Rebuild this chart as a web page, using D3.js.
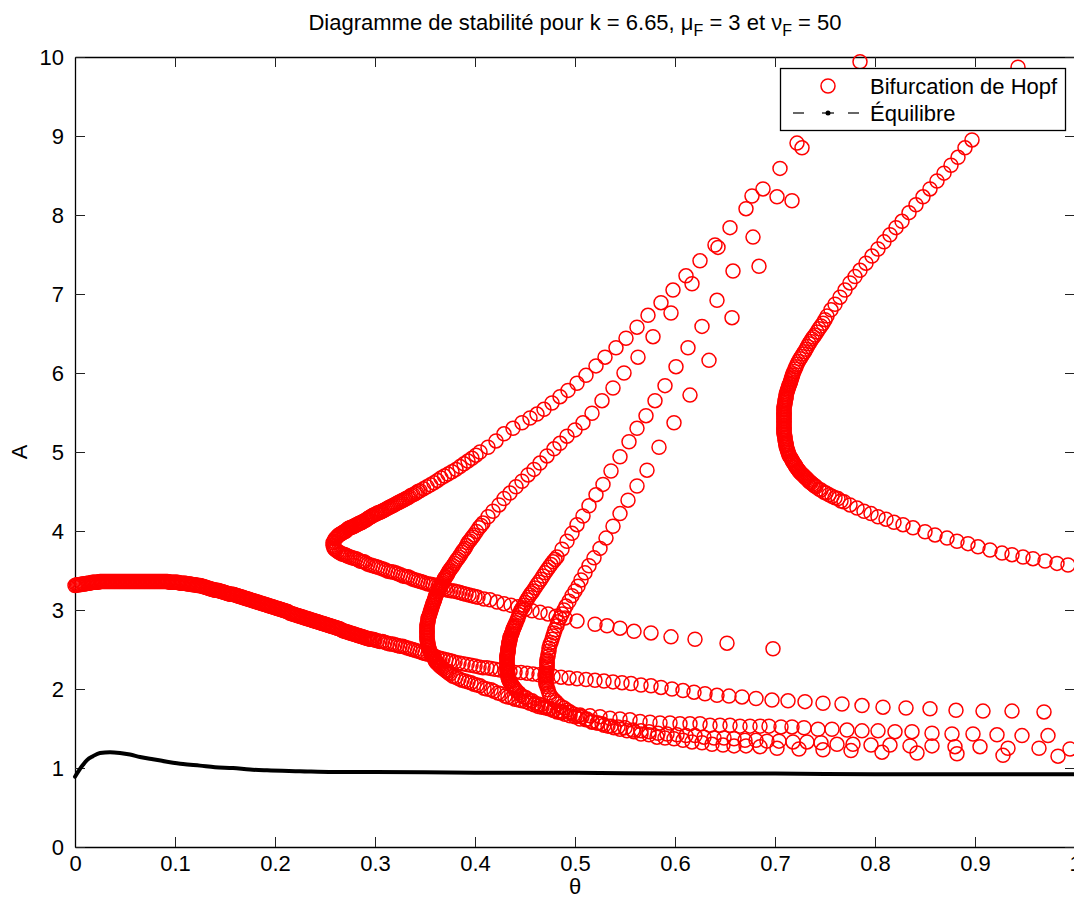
<!DOCTYPE html>
<html>
<head>
<meta charset="utf-8">
<script src="https://cdn.jsdelivr.net/npm/d3@7"></script>
<style>
  html, body { margin: 0; padding: 0; background: #fff; }
  svg { display: block; font-family: "Liberation Sans", Arial, Helvetica, sans-serif; }
</style>
</head>
<body>
<svg id="chart" width="1074" height="900"></svg>
<script>
// ---- Axis ticks -------------------------------------------------------
const thetaTicks = [0, 0.1, 0.2, 0.3, 0.4, 0.5, 0.6, 0.7, 0.8, 0.9, 1];
const thetaTickLabels = ["0", "0.1", "0.2", "0.3", "0.4", "0.5", "0.6", "0.7", "0.8", "0.9", "1"];
const aTicks = [0, 1, 2, 3, 4, 5, 6, 7, 8, 9, 10];
const aTickLabels = ["0", "1", "2", "3", "4", "5", "6", "7", "8", "9", "10"];

// ---- Hopf bifurcation points [theta, A] -------------------------------
// Branch starting at theta = 0 (very finely sampled near the origin)
const hopfBranch1 = [
[0.00000,3.310],[0.00125,3.315],[0.00250,3.320],[0.00375,3.320],[0.00500,3.320],[0.00625,3.325],[0.00750,3.330],[0.00875,3.330],
[0.01000,3.330],[0.01125,3.335],[0.01250,3.340],[0.01375,3.340],[0.01500,3.340],[0.01625,3.345],[0.01750,3.350],[0.01875,3.350],
[0.02000,3.350],[0.02125,3.350],[0.02250,3.350],[0.02375,3.355],[0.02500,3.360],[0.02625,3.36],[0.02750,3.36],[0.02875,3.36],
[0.03000,3.36],[0.03125,3.36],[0.03250,3.36],[0.03375,3.36],[0.03500,3.36],[0.03625,3.36],[0.03750,3.36],[0.03875,3.36],
[0.04000,3.36],[0.04125,3.36],[0.04250,3.36],[0.04375,3.36],[0.04500,3.36],[0.04625,3.36],[0.04750,3.36],[0.04875,3.36],
[0.05000,3.36],[0.05125,3.36],[0.05250,3.36],[0.05375,3.36],[0.05500,3.36],[0.05625,3.36],[0.05750,3.36],[0.05875,3.36],
[0.06000,3.36],[0.06125,3.36],[0.06250,3.36],[0.06375,3.36],[0.06500,3.36],[0.06625,3.36],[0.06750,3.36],[0.06875,3.36],
[0.07000,3.36],[0.07125,3.36],[0.07250,3.36],[0.07375,3.36],[0.07500,3.36],[0.07625,3.36],[0.07750,3.36],[0.07875,3.36],
[0.08000,3.36],[0.08125,3.36],[0.08250,3.36],[0.08375,3.36],[0.08500,3.36],[0.08625,3.36],[0.08750,3.36],[0.08875,3.36],
[0.09000,3.36],[0.09125,3.36],[0.09250,3.36],[0.09375,3.355],[0.09500,3.35],[0.09625,3.35],[0.09750,3.35],[0.09875,3.35],
[0.10000,3.35],[0.10125,3.35],[0.10250,3.35],[0.10375,3.345],[0.10500,3.34],[0.10625,3.34],[0.10750,3.34],[0.10875,3.34],
[0.11000,3.34],[0.11125,3.335],[0.11250,3.33],[0.11375,3.33],[0.11500,3.33],[0.11625,3.325],[0.11750,3.32],[0.11875,3.32],
[0.12000,3.32],[0.12125,3.315],[0.12250,3.31],[0.12375,3.31],[0.12500,3.31],[0.12625,3.305],[0.12750,3.30],[0.12875,3.295],
[0.13000,3.29],[0.13125,3.285],[0.13250,3.28],[0.13375,3.275],[0.13500,3.27],[0.13625,3.265],[0.13750,3.26],[0.13875,3.255],
[0.14000,3.25],[0.14125,3.25],[0.14250,3.25],[0.14375,3.245],[0.14500,3.24],[0.14625,3.235],[0.14750,3.23],[0.14875,3.225],
[0.15000,3.22],[0.15125,3.215],[0.15250,3.21],[0.15375,3.205],[0.15500,3.20],[0.15625,3.20],[0.15750,3.20],[0.15875,3.195],
[0.16000,3.19],[0.16125,3.185],[0.16250,3.18],[0.16375,3.175],[0.16500,3.17],[0.16625,3.165],[0.16750,3.16],[0.16875,3.155],
[0.17000,3.15],[0.17125,3.145],[0.17250,3.14],[0.17375,3.135],[0.17500,3.13],[0.17625,3.125],[0.17750,3.12],[0.17875,3.115],
[0.18000,3.11],[0.18125,3.105],[0.18250,3.10],[0.18375,3.095],[0.18500,3.09],[0.18625,3.085],[0.18750,3.08],[0.18875,3.075],
[0.19000,3.07],[0.19125,3.065],[0.19250,3.06],[0.19375,3.055],[0.19500,3.05],[0.19625,3.045],[0.19750,3.04],[0.19875,3.035],
[0.20000,3.03],[0.20125,3.025],[0.20250,3.02],[0.20375,3.015],[0.20500,3.01],[0.20625,3.005],[0.20750,3.00],[0.20875,2.995],
[0.21000,2.99],[0.21125,2.985],[0.21250,2.98],[0.21375,2.97],[0.21500,2.96],[0.21625,2.955],[0.21750,2.95],[0.21875,2.945],
[0.22000,2.94],[0.22125,2.935],[0.22250,2.93],[0.22375,2.925],[0.22500,2.92],[0.22625,2.915],[0.22750,2.91],[0.22875,2.905],
[0.23000,2.90],[0.23125,2.895],[0.23250,2.89],[0.23375,2.885],[0.23500,2.88],[0.23625,2.875],[0.23750,2.87],[0.23875,2.865],
[0.24000,2.86],[0.24125,2.855],[0.24250,2.85],[0.24375,2.845],[0.24500,2.84],[0.24625,2.835],[0.24750,2.83],[0.24875,2.825],
[0.25000,2.82],[0.25125,2.815],[0.25250,2.81],[0.25375,2.805],[0.25500,2.80],[0.25625,2.795],[0.25750,2.79],[0.25875,2.785],
[0.26000,2.78],[0.26125,2.775],[0.26250,2.77],[0.26375,2.765],[0.26500,2.76],[0.26625,2.75],[0.26750,2.74],[0.26875,2.735],
[0.27000,2.73],[0.27125,2.725],[0.27250,2.72],[0.27375,2.715],[0.27500,2.71],[0.27625,2.705],[0.27750,2.70],[0.27875,2.695],
[0.28000,2.69],[0.28125,2.685],[0.28250,2.68],[0.28375,2.675],[0.28500,2.67],[0.28625,2.665],[0.28750,2.66],[0.28875,2.655],
[0.29000,2.65],[0.29125,2.645],[0.29250,2.64],[0.29375,2.635],[0.29500,2.63],[0.29625,2.63],[0.29750,2.63],[0.29875,2.625],
[0.3000,2.62],[0.3025,2.61],[0.3050,2.60],[0.3075,2.60],[0.3100,2.59],[0.3125,2.58],[0.3150,2.57],[0.3175,2.57],[0.3200,2.56],[0.3225,2.55],[0.3250,2.54],[0.3275,2.54],[0.3300,2.53],[0.3325,2.52],[0.3350,2.51],[0.3375,2.50],[0.3400,2.49],[0.3425,2.48],[0.3450,2.47],[0.3475,2.46],[0.3500,2.45],
[0.353,2.44],[0.356,2.43],[0.359,2.42],[0.362,2.40],[0.365,2.39],[0.368,2.38],[0.371,2.37],[0.374,2.36],[0.377,2.35],[0.380,2.34],[0.384,2.33],[0.388,2.32],[0.392,2.31],[0.396,2.30],[0.400,2.29],[0.404,2.28],[0.408,2.27],[0.412,2.27],[0.416,2.26],[0.420,2.25],[0.425,2.24],[0.430,2.23],[0.435,2.22],[0.440,2.21],[0.446,2.21],[0.452,2.20],[0.458,2.19],[0.464,2.18],[0.470,2.17],[0.478,2.16],[0.486,2.15],[0.494,2.14],[0.502,2.13],[0.511,2.12],[0.520,2.11],[0.529,2.10],[0.538,2.09],[0.547,2.08],[0.556,2.07],[0.566,2.05],[0.576,2.04],[0.586,2.02],[0.597,2.00],[0.608,1.98],[0.619,1.96],[0.630,1.94],[0.642,1.92],[0.654,1.91],[0.667,1.90],[0.681,1.88],[0.697,1.86],[0.713,1.85],[0.730,1.84],[0.748,1.82],[0.767,1.81],[0.787,1.79],[0.808,1.77],[0.831,1.76],[0.855,1.75],[0.881,1.73],[0.908,1.72],[0.937,1.72],[0.969,1.71]];

// Branch folding at the cusp near theta = 0.26
const hopfBranch2Upper = [[0.258,3.82],[0.258,3.85],[0.259,3.87],[0.260,3.90],[0.261,3.91],[0.262,3.925],[0.263,3.94],[0.264,3.95],[0.265,3.96],[0.266,3.965],[0.267,3.97],[0.268,3.98],[0.269,3.99],[0.270,3.995],[0.271,4.00],[0.272,4.015],[0.273,4.03],[0.274,4.035],[0.275,4.04],[0.276,4.045],[0.277,4.05],[0.278,4.055],[0.279,4.06],[0.280,4.07],[0.281,4.075],[0.282,4.08],[0.283,4.09],[0.284,4.095],[0.285,4.10],[0.286,4.105],[0.287,4.11],[0.288,4.12],[0.2895,4.13],[0.291,4.14],[0.292,4.15],[0.293,4.16],[0.2945,4.17],[0.296,4.18],[0.297,4.19],[0.298,4.20],[0.2995,4.205],[0.301,4.215],[0.302,4.22],[0.303,4.23],[0.3045,4.235],[0.306,4.245],[0.307,4.25],[0.3085,4.26],[0.310,4.27],[0.3115,4.28],[0.313,4.29],[0.3145,4.30],[0.316,4.31],[0.3175,4.32],[0.319,4.33],[0.3205,4.34],[0.322,4.35],[0.3235,4.36],[0.325,4.37],[0.3265,4.38],[0.328,4.39],[0.3295,4.40],[0.331,4.41],[0.333,4.42],[0.3345,4.435],[0.336,4.45],[0.338,4.46],[0.340,4.47],[0.3415,4.485],[0.343,4.50],[0.345,4.51],[0.3485,4.535],[0.352,4.56],[0.3555,4.585],[0.359,4.61],[0.3625,4.64],[0.366,4.67],[0.3695,4.695],[0.373,4.72],[0.377,4.75],[0.381,4.78],[0.385,4.815],[0.389,4.85],[0.393,4.885],[0.397,4.92],[0.401,4.96],[0.405,5.00],[0.413,5.06],[0.421,5.14],[0.429,5.23],[0.438,5.30],[0.447,5.37],[0.455,5.43],[0.462,5.48],[0.469,5.54],[0.477,5.62],[0.485,5.70],[0.493,5.78],[0.502,5.87],[0.511,5.97],[0.521,6.09],[0.530,6.20],[0.541,6.32],[0.551,6.44],[0.562,6.58],[0.573,6.73],[0.586,6.89],[0.598,7.05],[0.611,7.23],[0.625,7.42],[0.640,7.62],[0.655,7.84],[0.671,8.08],[0.688,8.33],[0.705,8.59],[0.722,8.91],[0.785,9.94]];
const hopfBranch2Lower = [[0.259,3.80],[0.259,3.78],[0.260,3.77],[0.261,3.76],[0.2625,3.745],[0.264,3.73],[0.2655,3.72],[0.267,3.71],[0.2685,3.705],[0.270,3.70],[0.2715,3.69],[0.273,3.68],[0.275,3.67],[0.277,3.66],[0.279,3.655],[0.281,3.65],[0.283,3.635],[0.285,3.62],[0.287,3.615],[0.289,3.61],[0.291,3.595],[0.293,3.58],[0.2955,3.57],[0.298,3.56],[0.3005,3.55],[0.303,3.54],[0.3055,3.53],[0.308,3.52],[0.3105,3.505],[0.313,3.49],[0.3155,3.485],[0.318,3.48],[0.3205,3.47],[0.323,3.46],[0.3255,3.445],[0.328,3.43],[0.3305,3.425],[0.333,3.42],[0.3355,3.405],[0.338,3.39],[0.3405,3.38],[0.343,3.37],[0.3455,3.36],[0.348,3.35],[0.3505,3.34],[0.353,3.33],[0.3555,3.325],[0.358,3.32],[0.3605,3.305],[0.363,3.29],[0.3655,3.285],[0.368,3.28],[0.3705,3.265],[0.373,3.25],[0.376,3.245],[0.379,3.24],[0.382,3.23],[0.385,3.22],[0.388,3.21],[0.391,3.20],[0.394,3.19],[0.397,3.18],[0.400,3.17],[0.403,3.16],[0.409,3.14],[0.415,3.13],[0.422,3.10],[0.429,3.08],[0.436,3.06],[0.443,3.04],[0.450,3.01],[0.457,2.99],[0.465,2.97],[0.473,2.95],[0.481,2.92],[0.490,2.90],[0.502,2.86],[0.520,2.82],[0.532,2.80],[0.545,2.77],[0.559,2.73],[0.576,2.71],[0.596,2.66],[0.620,2.63],[0.652,2.58],[0.698,2.51]];

// Branch with its turning point near theta = 0.35
const hopfBranch3Upper = [[0.352,2.70],[0.352,2.715],[0.352,2.73],[0.352,2.75],[0.352,2.77],[0.352,2.79],[0.352,2.81],[0.3525,2.83],[0.353,2.85],[0.353,2.87],[0.353,2.89],[0.3535,2.905],[0.354,2.92],[0.3545,2.94],[0.355,2.96],[0.3555,2.98],[0.356,3.00],[0.3565,3.02],[0.357,3.04],[0.3575,3.06],[0.358,3.08],[0.3585,3.095],[0.359,3.11],[0.3595,3.13],[0.360,3.15],[0.3605,3.17],[0.361,3.19],[0.362,3.21],[0.363,3.23],[0.3635,3.25],[0.364,3.27],[0.365,3.285],[0.366,3.30],[0.3665,3.32],[0.367,3.34],[0.368,3.36],[0.369,3.38],[0.3695,3.395],[0.370,3.41],[0.371,3.425],[0.372,3.44],[0.3725,3.455],[0.373,3.47],[0.374,3.49],[0.375,3.51],[0.3765,3.535],[0.378,3.56],[0.3795,3.59],[0.381,3.62],[0.3825,3.645],[0.384,3.67],[0.3855,3.70],[0.387,3.73],[0.3885,3.755],[0.390,3.78],[0.3915,3.815],[0.393,3.85],[0.3945,3.875],[0.396,3.90],[0.3975,3.925],[0.399,3.95],[0.4015,3.995],[0.404,4.04],[0.406,4.07],[0.408,4.10],[0.413,4.18],[0.418,4.25],[0.424,4.33],[0.429,4.41],[0.435,4.48],[0.441,4.56],[0.447,4.63],[0.453,4.71],[0.459,4.78],[0.465,4.86],[0.472,4.95],[0.479,5.04],[0.485,5.11],[0.492,5.20],[0.500,5.28],[0.508,5.37],[0.517,5.49],[0.527,5.65],[0.538,5.81],[0.549,6.00],[0.563,6.20],[0.578,6.46],[0.596,6.76],[0.617,7.13],[0.643,7.59],[0.677,8.24]];
const hopfBranch3Lower = [[0.352,2.68],[0.352,2.66],[0.352,2.64],[0.352,2.62],[0.3525,2.60],[0.353,2.58],[0.353,2.56],[0.353,2.54],[0.3535,2.525],[0.354,2.51],[0.3545,2.49],[0.355,2.47],[0.356,2.45],[0.357,2.43],[0.3575,2.42],[0.358,2.41],[0.359,2.39],[0.360,2.37],[0.3605,2.355],[0.361,2.34],[0.362,2.33],[0.363,2.32],[0.364,2.305],[0.365,2.29],[0.366,2.28],[0.367,2.27],[0.3685,2.255],[0.370,2.24],[0.371,2.23],[0.372,2.22],[0.3735,2.205],[0.375,2.19],[0.378,2.16],[0.381,2.15],[0.384,2.13],[0.387,2.11],[0.390,2.10],[0.393,2.09],[0.396,2.08],[0.399,2.06],[0.402,2.05],[0.405,2.04],[0.409,2.01],[0.412,2.00],[0.416,1.99],[0.419,1.97],[0.423,1.95],[0.426,1.94],[0.430,1.91],[0.433,1.90],[0.437,1.89],[0.440,1.87],[0.444,1.86],[0.447,1.85],[0.451,1.84],[0.455,1.82],[0.459,1.80],[0.463,1.78],[0.467,1.77],[0.471,1.76],[0.475,1.75],[0.479,1.73],[0.484,1.72],[0.488,1.71],[0.495,1.70],[0.505,1.67],[0.515,1.66],[0.525,1.65],[0.535,1.63],[0.545,1.62],[0.555,1.61],[0.565,1.59],[0.575,1.58],[0.585,1.57],[0.595,1.57],[0.605,1.56],[0.615,1.56],[0.625,1.56],[0.635,1.54],[0.645,1.54],[0.655,1.54],[0.665,1.53],[0.675,1.53],[0.685,1.53],[0.694,1.53],[0.706,1.52],[0.717,1.52],[0.729,1.51],[0.743,1.49],[0.757,1.49],[0.772,1.48],[0.787,1.47],[0.803,1.47],[0.820,1.46],[0.837,1.46],[0.857,1.44],[0.877,1.43],[0.898,1.43],[0.922,1.42],[0.947,1.41],[0.973,1.41]];

// Branch with its turning point near theta = 0.43
const hopfBranch4Upper = [[0.432,2.30],[0.432,2.315],[0.432,2.33],[0.432,2.35],[0.432,2.37],[0.432,2.385],[0.432,2.40],[0.432,2.415],[0.432,2.43],[0.4325,2.445],[0.433,2.46],[0.433,2.475],[0.433,2.49],[0.433,2.505],[0.433,2.52],[0.4335,2.54],[0.434,2.56],[0.434,2.575],[0.434,2.59],[0.4345,2.605],[0.435,2.62],[0.435,2.635],[0.435,2.65],[0.4355,2.665],[0.436,2.68],[0.4365,2.695],[0.437,2.71],[0.4375,2.73],[0.438,2.75],[0.4385,2.765],[0.439,2.78],[0.4395,2.795],[0.440,2.81],[0.441,2.84],[0.442,2.87],[0.443,2.90],[0.444,2.94],[0.445,2.97],[0.446,3.00],[0.4475,3.03],[0.449,3.06],[0.4505,3.095],[0.452,3.13],[0.4535,3.16],[0.455,3.19],[0.4565,3.215],[0.458,3.24],[0.460,3.28],[0.462,3.32],[0.464,3.355],[0.466,3.39],[0.468,3.43],[0.470,3.47],[0.472,3.505],[0.474,3.54],[0.476,3.575],[0.478,3.61],[0.480,3.64],[0.482,3.67],[0.487,3.77],[0.492,3.87],[0.497,3.97],[0.502,4.08],[0.508,4.19],[0.514,4.32],[0.521,4.46],[0.528,4.59],[0.536,4.76],[0.545,4.94],[0.554,5.13],[0.562,5.30],[0.571,5.46],[0.580,5.65],[0.590,5.84],[0.601,6.08],[0.613,6.32],[0.627,6.59],[0.642,6.92],[0.658,7.29],[0.678,7.72],[0.702,8.23],[0.727,8.85]];
const hopfBranch4Lower = [[0.432,2.285],[0.432,2.27],[0.432,2.25],[0.432,2.23],[0.4325,2.21],[0.433,2.19],[0.433,2.17],[0.433,2.15],[0.4335,2.13],[0.434,2.11],[0.4345,2.10],[0.435,2.09],[0.436,2.07],[0.437,2.05],[0.4375,2.04],[0.438,2.03],[0.439,2.015],[0.440,2.00],[0.441,1.985],[0.442,1.97],[0.444,1.95],[0.446,1.92],[0.449,1.90],[0.451,1.89],[0.454,1.86],[0.457,1.85],[0.460,1.82],[0.463,1.81],[0.466,1.80],[0.470,1.77],[0.474,1.75],[0.478,1.73],[0.482,1.71],[0.486,1.70],[0.490,1.68],[0.495,1.66],[0.500,1.65],[0.505,1.62],[0.511,1.61],[0.517,1.58],[0.523,1.57],[0.529,1.54],[0.536,1.53],[0.543,1.52],[0.550,1.51],[0.558,1.48],[0.566,1.47],[0.574,1.46],[0.583,1.44],[0.592,1.43],[0.602,1.42],[0.611,1.41],[0.620,1.41],[0.629,1.39],[0.639,1.38],[0.649,1.38],[0.659,1.37],[0.670,1.35],[0.681,1.35],[0.692,1.34],[0.704,1.34],[0.718,1.33],[0.732,1.33],[0.746,1.32],[0.762,1.30],[0.778,1.30],[0.796,1.29],[0.815,1.29],[0.835,1.28],[0.857,1.28],[0.880,1.27],[0.905,1.27],[0.933,1.25],[0.964,1.25],[0.995,1.24]];

// Branch with its turning point near theta = 0.47
const hopfBranch5Upper = [[0.471,2.14],[0.471,2.16],[0.471,2.18],[0.471,2.20],[0.471,2.22],[0.472,2.25],[0.472,2.27],[0.472,2.29],[0.472,2.31],[0.472,2.33],[0.472,2.35],[0.472,2.37],[0.473,2.41],[0.473,2.44],[0.474,2.48],[0.474,2.52],[0.475,2.56],[0.476,2.59],[0.477,2.63],[0.478,2.67],[0.479,2.71],[0.480,2.75],[0.482,2.80],[0.483,2.85],[0.485,2.90],[0.487,2.95],[0.489,3.00],[0.491,3.05],[0.494,3.11],[0.497,3.18],[0.500,3.24],[0.503,3.30],[0.506,3.38],[0.510,3.47],[0.514,3.56],[0.519,3.66],[0.525,3.78],[0.531,3.91],[0.538,4.06],[0.545,4.22],[0.553,4.39],[0.562,4.57],[0.572,4.77],[0.584,5.06],[0.599,5.37],[0.615,5.72],[0.634,6.16],[0.657,6.70],[0.684,7.35],[0.717,8.18]];
const hopfBranch5Lower = [[0.471,2.12],[0.471,2.10],[0.471,2.08],[0.471,2.06],[0.472,2.03],[0.473,1.99],[0.474,1.95],[0.475,1.92],[0.477,1.89],[0.479,1.86],[0.481,1.84],[0.483,1.81],[0.486,1.78],[0.489,1.76],[0.492,1.73],[0.495,1.71],[0.499,1.68],[0.503,1.66],[0.507,1.65],[0.512,1.62],[0.517,1.59],[0.522,1.57],[0.527,1.56],[0.533,1.53],[0.539,1.51],[0.545,1.49],[0.552,1.47],[0.559,1.46],[0.566,1.43],[0.574,1.42],[0.582,1.39],[0.590,1.38],[0.599,1.37],[0.608,1.35],[0.617,1.33],[0.627,1.32],[0.637,1.30],[0.648,1.29],[0.659,1.28],[0.671,1.28],[0.685,1.27],[0.702,1.25],[0.724,1.24],[0.748,1.23],[0.776,1.22],[0.807,1.20],[0.842,1.19],[0.882,1.18],[0.928,1.16],[0.983,1.15]];

// Branch with its turning point near theta = 0.71
const hopfBranch6Upper = [[0.709,5.36],[0.709,5.38],[0.709,5.40],[0.709,5.42],[0.709,5.44],[0.709,5.46],[0.709,5.475],[0.709,5.49],[0.709,5.51],[0.709,5.53],[0.709,5.55],[0.709,5.57],[0.7095,5.59],[0.710,5.61],[0.710,5.63],[0.710,5.65],[0.7105,5.665],[0.711,5.68],[0.711,5.70],[0.711,5.72],[0.7115,5.74],[0.712,5.76],[0.7125,5.78],[0.713,5.80],[0.7135,5.82],[0.714,5.84],[0.7145,5.855],[0.715,5.87],[0.7155,5.89],[0.716,5.91],[0.7165,5.93],[0.717,5.95],[0.7175,5.97],[0.718,5.99],[0.719,6.02],[0.720,6.05],[0.721,6.08],[0.722,6.11],[0.7235,6.145],[0.725,6.18],[0.7265,6.21],[0.728,6.24],[0.7295,6.27],[0.731,6.30],[0.7325,6.335],[0.734,6.37],[0.7355,6.40],[0.737,6.43],[0.7385,6.455],[0.740,6.48],[0.742,6.52],[0.744,6.56],[0.746,6.595],[0.748,6.63],[0.750,6.675],[0.752,6.72],[0.756,6.80],[0.760,6.87],[0.765,6.96],[0.770,7.05],[0.775,7.14],[0.780,7.22],[0.785,7.30],[0.791,7.39],[0.797,7.48],[0.803,7.57],[0.809,7.66],[0.815,7.75],[0.821,7.84],[0.827,7.92],[0.834,8.03],[0.841,8.13],[0.848,8.23],[0.855,8.33],[0.862,8.43],[0.869,8.53],[0.876,8.63],[0.883,8.73],[0.890,8.85],[0.897,8.95],[0.943,9.87]];
const hopfBranch6Lower = [[0.709,5.34],[0.709,5.32],[0.709,5.30],[0.709,5.285],[0.709,5.27],[0.709,5.25],[0.709,5.23],[0.7095,5.21],[0.710,5.19],[0.710,5.17],[0.710,5.15],[0.7105,5.13],[0.711,5.11],[0.711,5.095],[0.711,5.08],[0.7115,5.06],[0.712,5.04],[0.7125,5.02],[0.713,5.00],[0.7135,4.98],[0.714,4.96],[0.715,4.94],[0.716,4.92],[0.717,4.90],[0.7175,4.885],[0.718,4.87],[0.719,4.855],[0.720,4.84],[0.7205,4.825],[0.721,4.81],[0.722,4.795],[0.723,4.78],[0.7235,4.77],[0.724,4.76],[0.725,4.745],[0.726,4.73],[0.727,4.72],[0.728,4.71],[0.729,4.695],[0.730,4.68],[0.731,4.67],[0.732,4.66],[0.733,4.645],[0.734,4.63],[0.735,4.62],[0.736,4.61],[0.7375,4.595],[0.739,4.58],[0.740,4.57],[0.741,4.56],[0.744,4.53],[0.746,4.52],[0.749,4.49],[0.751,4.48],[0.754,4.46],[0.757,4.44],[0.760,4.42],[0.763,4.41],[0.766,4.38],[0.769,4.37],[0.775,4.33],[0.782,4.29],[0.789,4.25],[0.796,4.22],[0.803,4.18],[0.811,4.15],[0.819,4.11],[0.828,4.08],[0.838,4.04],[0.850,3.99],[0.860,3.95],[0.872,3.91],[0.882,3.87],[0.893,3.84],[0.903,3.80],[0.915,3.76],[0.927,3.72],[0.937,3.70],[0.948,3.67],[0.958,3.65],[0.970,3.62],[0.982,3.59],[0.993,3.57]];

// ---- Equilibrium amplitude [theta, A] ---------------------------------
const equilibrium = [[0,0.89],[0.004,0.97],[0.008,1.04],[0.012,1.10],[0.018,1.15],[0.025,1.19],[0.035,1.20],[0.045,1.19],[0.055,1.17],[0.065,1.14],[0.078,1.11],[0.092,1.08],[0.108,1.05],[0.125,1.03],[0.140,1.01],[0.158,1.00],[0.175,0.98],[0.192,0.97],[0.225,0.96],[0.258,0.95],[0.300,0.95],[0.400,0.94],[0.500,0.94],[0.600,0.93],[0.700,0.93],[0.800,0.92],[0.900,0.92],[1.000,0.92]];

const hopfSeries = [
  hopfBranch1,
  hopfBranch2Upper, hopfBranch2Lower,
  hopfBranch3Upper, hopfBranch3Lower,
  hopfBranch4Upper, hopfBranch4Lower,
  hopfBranch5Upper, hopfBranch5Lower,
  hopfBranch6Upper, hopfBranch6Lower
];

// ---- Layout ------------------------------------------------------------
const FONT = '"Liberation Sans", Arial, Helvetica, sans-serif';
const FS = 22;
const plot = { left: 75, right: 1075, top: 57, bottom: 847 };
const RED = "#ff0000";

const svg = d3.select("#chart");
svg.append("rect").attr("width", 1074).attr("height", 900).attr("fill", "#fff");

const x = d3.scaleLinear().domain([0, 1]).range([plot.left, plot.right]);
const y = d3.scaleLinear().domain([0, 10]).range([plot.bottom, plot.top]);

// ---- Axes (box with inward ticks) --------------------------------------
function styleAxis(g) {
  g.attr("font-size", FS).attr("font-family", FONT);
  g.selectAll(".domain").attr("stroke", "#000").attr("stroke-width", 1.3);
  g.selectAll(".tick line").attr("stroke", "#222").attr("stroke-width", 1);
  g.selectAll(".tick text").attr("fill", "#000");
}

svg.append("g")
  .attr("transform", `translate(0,${plot.bottom})`)
  .call(d3.axisBottom(x).tickValues(thetaTicks)
    .tickFormat((d, i) => thetaTickLabels[i])
    .tickSizeInner(-10).tickSizeOuter(0).tickPadding(8))
  .call(styleAxis);

svg.append("g")
  .attr("transform", `translate(0,${plot.top})`)
  .call(d3.axisTop(x).tickValues(thetaTicks).tickFormat(() => "")
    .tickSizeInner(-10).tickSizeOuter(0))
  .call(styleAxis);

svg.append("g")
  .attr("transform", `translate(${plot.left},0)`)
  .call(d3.axisLeft(y).tickValues(aTicks)
    .tickFormat((d, i) => aTickLabels[i])
    .tickSizeInner(-10).tickSizeOuter(0).tickPadding(11))
  .call(styleAxis);

svg.append("g")
  .attr("transform", `translate(${plot.right},0)`)
  .call(d3.axisRight(y).tickValues(aTicks).tickFormat(() => "")
    .tickSizeInner(-10).tickSizeOuter(0))
  .call(styleAxis);

// ---- Hopf bifurcation markers -----------------------------------------
const hopfLayer = svg.append("g").attr("class", "hopf");
hopfSeries.forEach(series => {
  hopfLayer.append("g").selectAll("circle")
    .data(series)
    .join("circle")
    .attr("cx", d => x(d[0]))
    .attr("cy", d => y(d[1]))
    .attr("r", 7)
    .attr("fill", "none")
    .attr("stroke", RED)
    .attr("stroke-width", 1.5);
});

// ---- Equilibrium curve -------------------------------------------------
svg.append("path")
  .datum(equilibrium)
  .attr("fill", "none")
  .attr("stroke", "#000")
  .attr("stroke-width", 4)
  .attr("stroke-linecap", "round")
  .attr("stroke-linejoin", "round")
  .attr("d", d3.line().x(d => x(d[0])).y(d => y(d[1])).curve(d3.curveMonotoneX));

// ---- Title and axis labels ----------------------------------------------
const title = svg.append("text")
  .attr("x", (plot.left + plot.right) / 2)
  .attr("y", 30)
  .attr("text-anchor", "middle")
  .attr("font-family", FONT)
  .attr("font-size", FS)
  .attr("fill", "#000");
title.append("tspan").text("Diagramme de stabilité pour k = 6.65, μ");
title.append("tspan").attr("dy", 6).attr("font-size", 16).text("F");
title.append("tspan").attr("dy", -6).text(" = 3 et ν");
title.append("tspan").attr("dy", 6).attr("font-size", 16).text("F");
title.append("tspan").attr("dy", -6).text(" = 50");

svg.append("text")
  .attr("x", (plot.left + plot.right) / 2)
  .attr("y", 894)
  .attr("text-anchor", "middle")
  .attr("font-family", FONT)
  .attr("font-size", FS)
  .text("θ");

svg.append("text")
  .attr("transform", `translate(27,${(plot.top + plot.bottom) / 2}) rotate(-90)`)
  .attr("text-anchor", "middle")
  .attr("font-family", FONT)
  .attr("font-size", FS)
  .text("A");

// ---- Legend ---------------------------------------------------------------
const legend = svg.append("g").attr("class", "legend");
legend.append("rect")
  .attr("x", 780.5).attr("y", 68.5)
  .attr("width", 285).attr("height", 62)
  .attr("fill", "#fff").attr("stroke", "#000").attr("stroke-width", 1.3);

legend.append("circle")
  .attr("cx", 828).attr("cy", 86).attr("r", 7)
  .attr("fill", "none").attr("stroke", RED).attr("stroke-width", 1.5);
legend.append("text")
  .attr("x", 870).attr("y", 94)
  .attr("font-family", FONT).attr("font-size", FS)
  .text("Bifurcation de Hopf");

const ly = 113;
[[793, 804], [822, 834], [848, 859]].forEach(([a, b]) => {
  legend.append("line")
    .attr("x1", a).attr("x2", b).attr("y1", ly).attr("y2", ly)
    .attr("stroke", "#000").attr("stroke-width", 1.2);
});
legend.append("circle")
  .attr("cx", 828).attr("cy", ly).attr("r", 2.5).attr("fill", "#000");
legend.append("text")
  .attr("x", 870).attr("y", 121)
  .attr("font-family", FONT).attr("font-size", FS)
  .text("Équilibre");
</script>
</body>
</html>
